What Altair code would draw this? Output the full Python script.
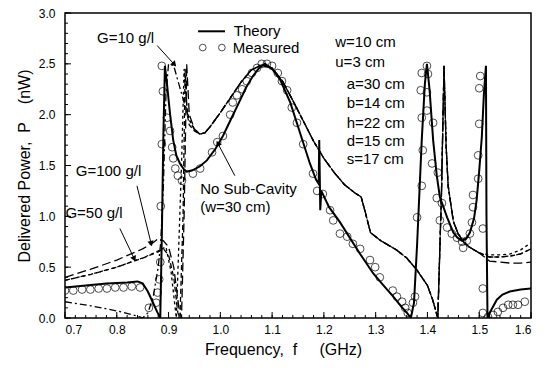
import math
import altair as alt
import pandas as pd

# ---------------- data ----------------
# Theory (solid)
th_f = [0.70, 0.74, 0.78, 0.82, 0.84, 0.85, 0.86, 0.87, 0.878, 0.884, 0.887, 0.89, 0.893, 0.897,
        0.903, 0.909, 0.915, 0.922, 0.93, 0.935, 0.945, 0.96, 0.974, 0.99, 1.005, 1.02, 1.038,
        1.05, 1.063, 1.075, 1.086, 1.10, 1.115, 1.135, 1.154, 1.173, 1.185, 1.19, 1.191, 1.193,
        1.195, 1.21, 1.23, 1.245, 1.27, 1.295, 1.315, 1.334, 1.35, 1.362, 1.368, 1.374, 1.38,
        1.389, 1.395, 1.399, 1.404, 1.411, 1.418, 1.424, 1.438, 1.45, 1.458, 1.467, 1.475,
        1.482, 1.49, 1.495, 1.50, 1.505, 1.509, 1.513, 1.514, 1.516, 1.52, 1.534, 1.545, 1.559,
        1.58, 1.60]
th_p = [0.30, 0.32, 0.34, 0.35, 0.36, 0.34, 0.26, 0.15, 0.06, 0.0, 0.8, 1.8, 2.48, 2.3,
        2.0, 1.75, 1.6, 1.52, 1.46, 1.44, 1.45, 1.49, 1.55, 1.66, 1.79, 1.95, 2.14,
        2.27, 2.38, 2.46, 2.50, 2.45, 2.35, 2.12, 1.82, 1.52, 1.36, 1.32, 1.75, 1.06,
        1.25, 1.09, 0.95, 0.83, 0.63, 0.44, 0.32, 0.21, 0.11, 0.04, 0.0, 0.15, 0.72,
        1.75, 2.3, 2.5, 2.25, 1.75, 1.4, 1.19, 0.99, 0.84, 0.79, 0.76, 0.78,
        0.84, 0.98, 1.16, 1.45, 1.78, 2.2, 2.48, 1.0, 0.0, 0.05, 0.18, 0.23, 0.26,
        0.28, 0.29]

# Measured (circles)
ms_f = [0.70, 0.716, 0.733, 0.749, 0.765, 0.781, 0.797, 0.813, 0.829, 0.845,
        0.862, 0.876, 0.879, 0.882, 0.884, 0.885, 0.887, 0.889, 0.897, 0.903, 0.887,
        0.907, 0.909, 0.913, 0.918, 0.926, 0.947, 0.961, 0.984, 0.994, 1.005, 1.019,
        1.024, 1.032, 1.042, 1.051, 1.061, 1.071, 1.08, 1.09, 1.10, 1.111, 1.119,
        1.129, 1.138, 1.148, 1.16, 1.179, 1.187, 1.198, 1.212, 1.218, 1.231, 1.245,
        1.256, 1.27, 1.289, 1.299, 1.308, 1.333, 1.341, 1.351, 1.357, 1.362, 1.372,
        1.376, 1.38, 1.389, 1.391, 1.389, 1.387, 1.389, 1.399, 1.401, 1.399, 1.399,
        1.411, 1.409, 1.42, 1.418, 1.428, 1.424, 1.438, 1.447, 1.457, 1.467, 1.469,
        1.476, 1.482, 1.486, 1.488, 1.488, 1.498, 1.498, 1.50, 1.50, 1.502, 1.507,
        1.507, 1.507, 1.517, 1.527, 1.536, 1.546, 1.556, 1.565, 1.575, 1.588]
ms_p = [0.27, 0.27, 0.28, 0.28, 0.29, 0.29, 0.30, 0.30, 0.31, 0.30,
        0.10, 0.15, 0.25, 0.38, 0.55, 1.10, 2.48, 2.23, 1.97, 1.84, 1.71,
        1.68, 1.57, 1.47, 1.40, 1.35, 1.42, 1.47, 1.63, 1.73, 1.79, 2.00,
        2.12, 2.19, 2.25, 2.33, 2.41, 2.46, 2.50, 2.50, 2.48, 2.41, 2.33,
        2.24, 2.07, 1.92, 1.71, 1.42, 1.25, 1.22, 1.06, 0.96, 0.83, 0.80,
        0.73, 0.68, 0.57, 0.50, 0.40, 0.27, 0.21, 0.16, 0.10, 0.05, 0.15,
        0.21, 0.99, 1.30, 1.65, 1.97, 2.24, 2.41, 2.48, 2.40, 2.22, 2.04,
        1.92, 1.52, 1.43, 1.18, 1.13, 0.96, 0.89, 0.83, 0.79, 0.75, 0.69,
        0.76, 0.83, 0.94, 1.09, 1.21, 1.37, 1.60, 1.91, 2.26, 2.38, 0.88,
        0.29, 0.05, 0.01, 0.03, 0.06, 0.10, 0.13, 0.13, 0.13, 0.16]

# Common middle part of the dashed model curves
mid_f = [0.96, 0.97, 0.98, 1.00, 1.02, 1.04, 1.06, 1.08, 1.10, 1.12, 1.14, 1.16, 1.18, 1.20,
         1.22, 1.24, 1.26, 1.272, 1.28, 1.29, 1.31, 1.34, 1.36, 1.38, 1.40, 1.41, 1.42,
         1.427, 1.432, 1.436, 1.44, 1.45, 1.46, 1.47, 1.48, 1.50]
mid_p = [1.81, 1.82, 1.88, 2.02, 2.17, 2.32, 2.44, 2.49, 2.46, 2.33, 2.14, 1.94, 1.74, 1.57,
         1.43, 1.31, 1.23, 1.19, 1.04, 0.84, 0.76, 0.67, 0.59, 0.47, 0.32, 0.18, 0.0,
         1.2, 2.48, 1.7, 1.3, 0.95, 0.82, 0.75, 0.70, 0.64]

# No sub-cavity (dash-dot)
ns_left_f = [0.70, 0.75, 0.80, 0.84, 0.85, 0.86, 0.87, 0.88, 0.885, 0.89, 0.895, 0.90, 0.91,
             0.92, 0.93, 0.94, 0.95]
ns_left_p = [0.16, 0.12, 0.07, 0.02, 0.0, 0.05, 0.2, 0.5, 0.75, 1.3, 2.2, 2.5, 2.48,
             2.3, 2.12, 1.95, 1.85]
ns_tail_f = [1.52, 1.54, 1.56, 1.58, 1.60]
ns_tail_p = [0.60, 0.60, 0.61, 0.63, 0.68]

# G = 10 g/l (short dash)
g10_left_f = [0.70, 0.75, 0.80, 0.85, 0.88, 0.895, 0.905, 0.915, 0.925, 0.93, 0.935, 0.94, 0.95]
g10_left_p = [0.37, 0.43, 0.50, 0.59, 0.66, 0.70, 0.45, 0.0, 1.5, 2.45, 2.1, 1.95, 1.86]
g10_tail_f = [1.52, 1.54, 1.56, 1.58, 1.60]
g10_tail_p = [0.62, 0.62, 0.63, 0.67, 0.74]

# G = 50 g/l (dashed)
g50_left_f = [0.70, 0.75, 0.80, 0.85, 0.88, 0.89, 0.90, 0.91, 0.918, 0.922, 0.928, 0.932,
              0.936, 0.94, 0.95]
g50_left_p = [0.37, 0.43, 0.50, 0.59, 0.65, 0.68, 0.62, 0.40, 0.05, 0.0, 1.0, 2.45,
              2.0, 1.9, 1.84]
g50_tail_f = [1.52, 1.54, 1.56, 1.58, 1.60]
g50_tail_p = [0.60, 0.60, 0.61, 0.63, 0.68]

# G = 100 g/l (long dash)
g100_left_f = [0.70, 0.75, 0.80, 0.85, 0.87, 0.88, 0.89, 0.90, 0.91, 0.92, 0.925, 0.93,
               0.935, 0.94, 0.95]
g100_left_p = [0.40, 0.48, 0.57, 0.68, 0.74, 0.78, 0.76, 0.70, 0.50, 0.10, 0.0, 1.0,
               2.5, 2.0, 1.86]
g100_tail_f = [1.52, 1.54, 1.56, 1.58, 1.60]
g100_tail_p = [0.56, 0.55, 0.54, 0.54, 0.55]

# Parameter text
par_text = ["w=10 cm", "u=3 cm", "a=30 cm", "b=14 cm", "h=22 cm", "d=15 cm", "s=17 cm"]
par_f = [1.222, 1.222, 1.244, 1.244, 1.244, 1.244, 1.244]
par_p = [2.71, 2.52, 2.30, 2.11, 1.92, 1.74, 1.56]

# Annotation labels
ann_text = ["G=10 g/l", "G=100 g/l", "G=50 g/l", "No Sub-Cavity", "(w=30 cm)"]
ann_f = [0.817, 0.784, 0.756, 0.961, 0.961]
ann_p = [2.75, 1.45, 1.03, 1.27, 1.09]
ann_align = ["center", "center", "center", "left", "left"]

# Arrows (tail -> tip)
arr_f1 = [0.878, 0.839, 0.806, 1.028]
arr_p1 = [2.68, 1.30, 0.88, 1.40]
arr_f2 = [0.910, 0.866, 0.833, 0.996]
arr_p2 = [2.50, 0.74, 0.59, 1.71]

# Legend
leg_line_f = [0.957, 1.009]
leg_line_p = [2.82, 2.82]
leg_circ_f = [0.966, 1.003]
leg_circ_p = [2.66, 2.66]
leg_text = ["Theory", "Measured"]
leg_text_f = [1.026, 1.024]
leg_text_p = [2.82, 2.66]

x_major = [0.7, 0.8, 0.9, 1.0, 1.1, 1.2, 1.3, 1.4, 1.5, 1.6]
y_major = [0.0, 0.5, 1.0, 1.5, 2.0, 2.5, 3.0]
x_minor = [round(0.7 + 0.02 * i, 2) for i in range(46)]
y_minor = [round(0.1 * i, 1) for i in range(31)]

NB = "\u00a0"
x_title = "Frequency," + NB * 2 + "f" + NB * 5 + "(GHz)"
y_title = "Delivered Power," + NB * 2 + "P" + NB * 4 + "(nW)"

# ---------------- chart ----------------
W, H = 466, 305
FONT = "Liberation Sans"
TXT = 15
xs = alt.Scale(domain=[0.7, 1.6], nice=False, zero=False)
ys = alt.Scale(domain=[0, 3], nice=False, zero=False)


def curve(f, p):
    return pd.DataFrame({"f": f, "P": p, "o": list(range(len(f)))})


def line_layer(df, dash=None, width=1.3):
    kw = dict(color="black", strokeWidth=width, clip=True)
    if dash:
        kw["strokeDash"] = dash
    return alt.Chart(df).mark_line(**kw).encode(
        x=alt.X("f:Q", scale=xs), y=alt.Y("P:Q", scale=ys), order="o:Q")


base_x = alt.X("f:Q", scale=xs,
               axis=alt.Axis(values=x_major, format=".1f", ticks=False, domain=False,
                             grid=False, labelPadding=6, labelFontSize=12, labelFont=FONT,
                             title=x_title, titleFont=FONT, titleX=218,
                             titleFontSize=16, titleFontWeight="normal", titlePadding=6))
base_y = alt.Y("P:Q", scale=ys,
               axis=alt.Axis(values=y_major, format=".1f", ticks=False, domain=False,
                             grid=False, labelPadding=10, labelFontSize=12, labelFont=FONT,
                             title=y_title, titleFont=FONT,
                             titleFontSize=16, titleFontWeight="normal", titlePadding=6))

theory = alt.Chart(curve(th_f, th_p)).mark_line(color="black", strokeWidth=2, clip=True).encode(
    x=base_x, y=base_y, order="o:Q")

nosub = line_layer(curve(ns_left_f + mid_f + ns_tail_f, ns_left_p + mid_p + ns_tail_p),
                   dash=[7, 3, 2, 3])
g10 = line_layer(curve(g10_left_f + mid_f + g10_tail_f, g10_left_p + mid_p + g10_tail_p),
                 dash=[3, 3])
g50 = line_layer(curve(g50_left_f + mid_f + g50_tail_f, g50_left_p + mid_p + g50_tail_p),
                 dash=[5, 3])
g100 = line_layer(curve(g100_left_f + mid_f + g100_tail_f, g100_left_p + mid_p + g100_tail_p),
                  dash=[9, 4])

meas = alt.Chart(pd.DataFrame({"f": ms_f, "P": ms_p})).mark_point(
    shape="circle", filled=False, color="black", size=60, strokeWidth=1, clip=True).encode(
    x=alt.X("f:Q", scale=xs), y=alt.Y("P:Q", scale=ys))

# ticks drawn inward
xt_major = alt.Chart(pd.DataFrame({"f": x_major})).mark_rule(color="black", strokeWidth=1).encode(
    x=alt.X("f:Q", scale=xs), y=alt.value(H), y2=alt.value(H - 6))
xt_minor = alt.Chart(pd.DataFrame({"f": x_minor})).mark_rule(color="black", strokeWidth=1).encode(
    x=alt.X("f:Q", scale=xs), y=alt.value(H), y2=alt.value(H - 3))
yt_major = alt.Chart(pd.DataFrame({"P": y_major})).mark_rule(color="black", strokeWidth=1).encode(
    y=alt.Y("P:Q", scale=ys), x=alt.value(0), x2=alt.value(6))
yt_minor = alt.Chart(pd.DataFrame({"P": y_minor})).mark_rule(color="black", strokeWidth=1).encode(
    y=alt.Y("P:Q", scale=ys), x=alt.value(0), x2=alt.value(3))

params = alt.Chart(pd.DataFrame({"f": par_f, "P": par_p, "t": par_text})).mark_text(
    align="left", baseline="middle", font=FONT, fontSize=TXT, color="black").encode(
    x=alt.X("f:Q", scale=xs), y=alt.Y("P:Q", scale=ys), text="t:N")

ann_df = pd.DataFrame({"f": ann_f, "P": ann_p, "t": ann_text, "a": ann_align})
ann_c = alt.Chart(ann_df[ann_df.a == "center"]).mark_text(
    align="center", baseline="middle", font=FONT, fontSize=TXT, color="black").encode(
    x=alt.X("f:Q", scale=xs), y=alt.Y("P:Q", scale=ys), text="t:N")
ann_l = alt.Chart(ann_df[ann_df.a == "left"]).mark_text(
    align="left", baseline="middle", font=FONT, fontSize=TXT, color="black").encode(
    x=alt.X("f:Q", scale=xs), y=alt.Y("P:Q", scale=ys), text="t:N")

# arrows
px_per_f = W / 0.9
px_per_p = H / 3.0
angles = []
for a, b, c, d in zip(arr_f1, arr_p1, arr_f2, arr_p2):
    dx = (c - a) * px_per_f
    dy = -(d - b) * px_per_p
    angles.append(math.degrees(math.atan2(dx, -dy)) % 360)
arr_df = pd.DataFrame({"f1": arr_f1, "p1": arr_p1, "f2": arr_f2, "p2": arr_p2, "ang": angles})
arr_lines = alt.Chart(arr_df).mark_rule(color="black", strokeWidth=1).encode(
    x=alt.X("f1:Q", scale=xs), y=alt.Y("p1:Q", scale=ys), x2="f2:Q", y2="p2:Q")
arr_heads = alt.Chart(arr_df).mark_point(shape="triangle", filled=True, color="black",
                                         size=40, opacity=1).encode(
    x=alt.X("f2:Q", scale=xs), y=alt.Y("p2:Q", scale=ys),
    angle=alt.Angle("ang:Q", scale=None))

# legend
leg_line = alt.Chart(curve(leg_line_f, leg_line_p)).mark_line(color="black", strokeWidth=2).encode(
    x=alt.X("f:Q", scale=xs), y=alt.Y("P:Q", scale=ys))
leg_circ = alt.Chart(pd.DataFrame({"f": leg_circ_f, "P": leg_circ_p})).mark_point(
    shape="circle", filled=False, color="black", size=45, strokeWidth=1).encode(
    x=alt.X("f:Q", scale=xs), y=alt.Y("P:Q", scale=ys))
leg_txt = alt.Chart(pd.DataFrame({"f": leg_text_f, "P": leg_text_p, "t": leg_text})).mark_text(
    align="left", baseline="middle", font=FONT, fontSize=TXT, color="black").encode(
    x=alt.X("f:Q", scale=xs), y=alt.Y("P:Q", scale=ys), text="t:N")

chart = alt.layer(
    theory, nosub, g10, g50, g100, meas,
    xt_major, xt_minor, yt_major, yt_minor,
    params, ann_c, ann_l, arr_lines, arr_heads, leg_line, leg_circ, leg_txt
).properties(
    width=W, height=H,
    autosize=alt.AutoSizeParams(type="none"),
    padding={"left": 57, "top": 5, "right": 8, "bottom": 42},
    background="white",
).configure_view(stroke="black", strokeWidth=1.5)

chart.save("out.html", embed_options={"renderer": "svg", "actions": False})
